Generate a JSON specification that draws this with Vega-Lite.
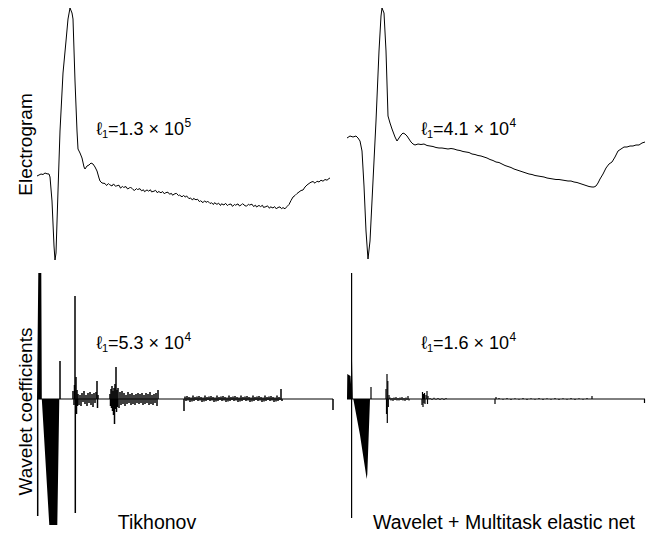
{
  "$schema": "https://vega.github.io/schema/vega-lite/v6.json",
  "padding": {"left": 16, "top": 6, "right": 1, "bottom": 1},
  "columns": 2,
  "align": "each",
  "bounds": "flush",
  "spacing": {"row": 12, "column": 14},
  "config": {
    "view": {"stroke": null},
    "text": {"font": "Liberation Sans", "color": "black", "baseline": "middle"}
  },
  "datasets": {
    "tl": [
      {"x":0,"v":-0.1},{"x":4,"v":0.1},{"x":6,"v":0.05},{"x":8,"v":0.2},{"x":10,"v":0.12},{"x":12,"v":0.1},{"x":13,"v":-0.2},{"x":15,"v":-2.6},{"x":17,"v":-7.1},{"x":18,"v":-8.5},{"x":19,"v":-7.8},{"x":21,"v":-1.6},{"x":23,"v":4.4},{"x":26,"v":10.2},{"x":29,"v":13.4},{"x":31,"v":15.6},{"x":33,"v":16.7},{"x":35,"v":16.2},{"x":36,"v":15.6},{"x":38,"v":9.4},{"x":40,"v":4.4},{"x":41,"v":2.6},{"x":43,"v":2.2},{"x":45,"v":1.7},{"x":47,"v":0.8},{"x":48,"v":0.6},{"x":50,"v":0.9},{"x":52,"v":1.0},{"x":54,"v":1.2},{"x":56,"v":1.1},{"x":58,"v":0.8},{"x":60,"v":0.4},{"x":62,"v":-0.3},{"x":63,"v":-0.6},{"x":65,"v":-0.8},
      {"x":68,"v":-0.85},{"x":69.5,"v":-1.05},{"x":71.5,"v":-0.86},{"x":72.5,"v":-0.96},{"x":75,"v":-1.1},{"x":76.5,"v":-0.89},{"x":78.5,"v":-1.13},{"x":79.5,"v":-1.09},{"x":82,"v":-1.02},{"x":83.5,"v":-1.31},{"x":85.5,"v":-1.14},{"x":86.5,"v":-1.24},{"x":89,"v":-1.16},{"x":90.5,"v":-1.39},{"x":92.5,"v":-1.3},{"x":93.5,"v":-1.2},{"x":96,"v":-1.46},{"x":97.5,"v":-1.54},{"x":99.5,"v":-1.36},{"x":100.5,"v":-1.45},{"x":103,"v":-1.37},{"x":104.5,"v":-1.58},{"x":106.5,"v":-1.48},{"x":107.5,"v":-1.67},{"x":110,"v":-1.49},{"x":111.5,"v":-1.61},{"x":113.5,"v":-1.48},{"x":114.5,"v":-1.69},{"x":117,"v":-1.62},{"x":118.5,"v":-1.53},{"x":120.5,"v":-1.79},{"x":121.5,"v":-1.64},{"x":124,"v":-1.78},{"x":125.5,"v":-1.65},{"x":127.5,"v":-1.89},{"x":128.5,"v":-1.77},{"x":131,"v":-1.72},{"x":132.5,"v":-1.92},{"x":134.5,"v":-1.84},{"x":135.5,"v":-2.02},{"x":138,"v":-1.87},{"x":139.5,"v":-1.84},{"x":141.5,"v":-2.06},{"x":142.5,"v":-2.01},{"x":145,"v":-2.18},{"x":146.5,"v":-2.05},{"x":148.5,"v":-2.21},{"x":149.5,"v":-2.08},{"x":152,"v":-2.37},{"x":153.5,"v":-2.29},{"x":155.5,"v":-2.51},{"x":156.5,"v":-2.34},{"x":159,"v":-2.48},{"x":160.5,"v":-2.42},{"x":162.5,"v":-2.67},{"x":163.5,"v":-2.57},{"x":166,"v":-2.77},{"x":167.5,"v":-2.59},{"x":169.5,"v":-2.74},{"x":170.5,"v":-2.6},{"x":173,"v":-2.85},{"x":174.5,"v":-2.78},{"x":176.5,"v":-2.95},{"x":177.5,"v":-2.77},{"x":180,"v":-2.94},{"x":181.5,"v":-2.81},{"x":183.5,"v":-3.05},{"x":184.5,"v":-2.88},{"x":187,"v":-3.0},{"x":188.5,"v":-2.83},{"x":190.5,"v":-3.06},{"x":191.5,"v":-2.96},{"x":194,"v":-2.9},{"x":195.5,"v":-3.14},{"x":197.5,"v":-2.94},{"x":198.5,"v":-3.02},{"x":201,"v":-2.89},{"x":202.5,"v":-3.1},{"x":204.5,"v":-2.97},{"x":205.5,"v":-2.87},{"x":208,"v":-3.07},{"x":209.5,"v":-3.12},{"x":211.5,"v":-2.92},{"x":212.5,"v":-3.0},{"x":215,"v":-2.92},{"x":216.5,"v":-3.15},{"x":218.5,"v":-3.02},{"x":219.5,"v":-3.2},{"x":222,"v":-3.04},{"x":223.5,"v":-3.16},{"x":225.5,"v":-3.03},{"x":226.5,"v":-3.24},{"x":229,"v":-3.17},{"x":230.5,"v":-3.08},{"x":232.5,"v":-3.33},{"x":233.5,"v":-3.18},{"x":236,"v":-3.3},{"x":237.5,"v":-3.16},{"x":239.5,"v":-3.4},{"x":240.5,"v":-3.26},{"x":243,"v":-3.19},{"x":244.5,"v":-3.37},{"x":246,"v":-3.26},{"x":248,"v":-3.38},{"x":250,"v":-3.15},{"x":252,"v":-2.95},{"x":254,"v":-2.55},{"x":256,"v":-2.2},{"x":258,"v":-2.05},{"x":260,"v":-1.85},{"x":262,"v":-1.7},{"x":264,"v":-1.55},{"x":266,"v":-1.5},{"x":268,"v":-1.2},{"x":270,"v":-1.0},{"x":272,"v":-0.85},{"x":274,"v":-0.72},{"x":276,"v":-0.65},{"x":278,"v":-0.82},{"x":280,"v":-0.62},{"x":282,"v":-0.7},{"x":284,"v":-0.52},{"x":286,"v":-0.62},{"x":288,"v":-0.45},{"x":290,"v":-0.52},{"x":292,"v":-0.35},{"x":293,"v":-0.3}
    ],
    "tr": [
      {"x":0,"v":3.7},{"x":3,"v":3.9},{"x":6,"v":3.8},{"x":9,"v":3.9},{"x":11,"v":3.7},{"x":13,"v":3.4},{"x":15,"v":2.4},{"x":17,"v":-1.1},{"x":19,"v":-5.6},{"x":21,"v":-8.4},{"x":23,"v":-6.6},{"x":26,"v":-0.6},{"x":29,"v":5.4},{"x":32,"v":12.4},{"x":34,"v":15.9},{"x":35,"v":16.7},{"x":37,"v":16.2},{"x":39,"v":12.4},{"x":41,"v":5.9},{"x":43,"v":5.2},{"x":45,"v":4.6},{"x":48,"v":3.8},{"x":50,"v":3.4},{"x":52,"v":3.7},{"x":54,"v":4.0},{"x":56,"v":4.2},{"x":58,"v":4.1},{"x":60,"v":3.9},{"x":62,"v":3.6},{"x":64,"v":3.3},{"x":66,"v":3.1},
      {"x":68,"v":3.0},{"x":71,"v":3.1},{"x":74,"v":3.05},{"x":77,"v":3.1},{"x":80,"v":2.95},{"x":83,"v":2.9},{"x":86,"v":2.85},{"x":89,"v":2.75},{"x":92,"v":2.7},{"x":95,"v":2.7},{"x":98,"v":2.65},{"x":101,"v":2.6},{"x":104,"v":2.65},{"x":107,"v":2.6},{"x":110,"v":2.5},{"x":113,"v":2.45},{"x":116,"v":2.35},{"x":119,"v":2.3},{"x":122,"v":2.25},{"x":125,"v":2.1},{"x":128,"v":2.05},{"x":131,"v":1.95},{"x":134,"v":1.9},{"x":137,"v":1.8},{"x":140,"v":1.7},{"x":143,"v":1.55},{"x":146,"v":1.45},{"x":149,"v":1.3},{"x":152,"v":1.25},{"x":155,"v":1.1},{"x":158,"v":0.95},{"x":161,"v":0.85},{"x":164,"v":0.75},{"x":167,"v":0.6},{"x":170,"v":0.5},{"x":173,"v":0.4},{"x":176,"v":0.3},{"x":179,"v":0.2},{"x":182,"v":0.1},{"x":185,"v":0.05},{"x":188,"v":-0.05},{"x":191,"v":-0.1},{"x":194,"v":-0.15},{"x":197,"v":-0.2},{"x":200,"v":-0.3},{"x":203,"v":-0.35},{"x":206,"v":-0.4},{"x":209,"v":-0.45},{"x":212,"v":-0.45},{"x":215,"v":-0.5},{"x":218,"v":-0.55},{"x":221,"v":-0.6},{"x":224,"v":-0.6},{"x":227,"v":-0.7},{"x":230,"v":-0.75},{"x":233,"v":-0.85},{"x":236,"v":-0.95},{"x":239,"v":-1.05},{"x":242,"v":-1.15},{"x":245,"v":-1.2},{"x":247,"v":-1.2},{"x":249,"v":-1.1},{"x":251,"v":-0.8},{"x":253,"v":-0.4},{"x":256,"v":0.1},{"x":259,"v":0.7},{"x":262,"v":1.1},{"x":265,"v":1.3},{"x":268,"v":1.8},{"x":271,"v":2.4},{"x":274,"v":2.6},{"x":277,"v":2.8},{"x":280,"v":2.8},{"x":283,"v":2.9},{"x":286,"v":2.9},{"x":289,"v":3.0},{"x":292,"v":3.0},{"x":295,"v":3.2},{"x":298,"v":3.3}
    ],
    "bl_area": [
      {"x":0,"v":0},{"x":1.3,"v":12.6},{"x":4.3,"v":12.6},{"x":4.8,"v":0},{"x":12.3,"v":-12.6},{"x":20.3,"v":-12.6},{"x":22.3,"v":0}
    ],
    "bl_stems": [
      {"x":0.7,"v":-11.7},{"x":23,"v":3.8},
      {"x":36,"v":0.8},{"x":37,"v":-0.6},{"x":37.5,"v":1.4},{"x":38,"v":10.3},{"x":38.3,"v":-11.4},{"x":39,"v":2.2},{"x":39.5,"v":-1.5},{"x":40,"v":0.9},{"x":40.5,"v":-0.7},
      {"x":41,"v":0.5},{"x":42,"v":-0.6},{"x":43,"v":0.4},{"x":44,"v":-0.7},{"x":45,"v":0.6},{"x":46,"v":-0.3},{"x":47,"v":0.8},{"x":48,"v":-0.5},{"x":49,"v":0.4},{"x":50,"v":-0.7},{"x":51,"v":0.6},{"x":52,"v":-0.4},{"x":53,"v":0.7},{"x":54,"v":-0.6},{"x":55,"v":0.5},{"x":56,"v":-0.8},{"x":57,"v":0.6},{"x":58,"v":-0.4},{"x":59,"v":0.7},{"x":60,"v":1.8},{"x":60.5,"v":-0.9},{"x":61,"v":0.4},
      {"x":73,"v":0.5},{"x":73.5,"v":-0.7},{"x":74,"v":1.0},{"x":74.5,"v":-0.9},{"x":75,"v":1.3},{"x":75.5,"v":-1.2},{"x":76,"v":0.8},{"x":76.5,"v":-1.6},{"x":77,"v":1.1},{"x":77.5,"v":-2.5},{"x":78,"v":1.5},{"x":78.5,"v":-1.0},{"x":79,"v":3.2},{"x":79.5,"v":-1.3},{"x":80,"v":0.9},{"x":80.5,"v":-0.8},{"x":81,"v":1.1},{"x":82,"v":-0.9},{"x":83,"v":0.7},{"x":84,"v":-0.6},{"x":85,"v":0.8},{"x":86,"v":-0.5},{"x":87,"v":0.6},{"x":88,"v":-0.7},{"x":89,"v":0.4},{"x":90,"v":-0.5},{"x":91,"v":0.7},{"x":92,"v":-0.4},{"x":93,"v":0.5},{"x":94,"v":-0.6},{"x":95,"v":0.6},{"x":96,"v":-0.5},{"x":97,"v":0.4},{"x":98,"v":-0.6},{"x":99,"v":0.5},{"x":100,"v":-0.4},{"x":101,"v":0.6},{"x":102,"v":-0.5},{"x":103,"v":0.5},{"x":104,"v":-0.4},{"x":105,"v":0.6},{"x":106,"v":-0.6},{"x":107,"v":0.4},{"x":108,"v":-0.5},{"x":109,"v":0.6},{"x":110,"v":-0.4},{"x":111,"v":0.5},{"x":112,"v":-0.6},{"x":113,"v":0.7},{"x":114,"v":-0.5},{"x":115,"v":0.4},{"x":116,"v":-0.6},{"x":117,"v":0.5},{"x":118,"v":-0.4},{"x":119,"v":0.6},{"x":120,"v":-0.7},{"x":121,"v":0.9},
      {"x":147,"v":-1.2},{"x":148,"v":0.25},{"x":149,"v":-0.2},{"x":150,"v":0.3},{"x":151,"v":-0.15},{"x":152,"v":0.2},{"x":153,"v":-0.3},{"x":154,"v":0.15},{"x":155,"v":-0.25},{"x":156,"v":0.35},{"x":157,"v":-0.2},{"x":158,"v":0.2},{"x":159,"v":-0.1},{"x":160,"v":0.25},{"x":161,"v":-0.2},{"x":162,"v":0.3},{"x":163,"v":-0.15},{"x":164,"v":0.2},{"x":165,"v":-0.3},{"x":166,"v":0.15},{"x":167,"v":-0.25},{"x":168,"v":0.35},{"x":169,"v":-0.2},{"x":170,"v":0.2},{"x":171,"v":-0.1},{"x":172,"v":0.25},{"x":173,"v":-0.2},{"x":174,"v":0.3},{"x":175,"v":-0.15},{"x":176,"v":0.2},{"x":177,"v":-0.3},{"x":178,"v":0.15},{"x":179,"v":-0.25},{"x":180,"v":0.35},{"x":181,"v":-0.2},{"x":182,"v":0.2},{"x":183,"v":-0.1},{"x":184,"v":0.25},{"x":185,"v":-0.2},{"x":186,"v":0.3},{"x":187,"v":-0.15},{"x":188,"v":0.2},{"x":189,"v":-0.3},{"x":190,"v":0.15},{"x":191,"v":-0.25},{"x":192,"v":0.35},{"x":193,"v":-0.2},{"x":194,"v":0.2},{"x":195,"v":-0.1},{"x":196,"v":0.25},{"x":197,"v":-0.2},{"x":198,"v":0.3},{"x":199,"v":-0.15},{"x":200,"v":0.2},{"x":201,"v":-0.3},{"x":202,"v":0.15},{"x":203,"v":-0.25},{"x":204,"v":0.35},{"x":205,"v":-0.2},{"x":206,"v":0.2},{"x":207,"v":-0.1},{"x":208,"v":0.25},{"x":209,"v":-0.2},{"x":210,"v":0.3},{"x":211,"v":-0.15},{"x":212,"v":0.2},{"x":213,"v":-0.3},{"x":214,"v":0.15},{"x":215,"v":-0.25},{"x":216,"v":0.35},{"x":217,"v":-0.2},{"x":218,"v":0.2},{"x":219,"v":-0.1},{"x":220,"v":0.25},{"x":221,"v":-0.2},{"x":222,"v":0.3},{"x":223,"v":-0.15},{"x":224,"v":0.2},{"x":225,"v":-0.3},{"x":226,"v":0.15},{"x":227,"v":-0.25},{"x":228,"v":0.35},{"x":229,"v":-0.2},{"x":230,"v":0.2},{"x":231,"v":-0.1},{"x":232,"v":0.25},{"x":233,"v":-0.2},{"x":234,"v":0.3},{"x":235,"v":-0.15},{"x":236,"v":0.2},{"x":237,"v":-0.3},{"x":238,"v":0.15},{"x":239,"v":-0.25},{"x":240,"v":0.35},{"x":241,"v":-0.2},{"x":242,"v":0.2},{"x":243,"v":-0.1},{"x":244,"v":1.0},{"x":245,"v":-0.2},
      {"x":296,"v":-1.1}
    ],
    "br_area": [
      {"x":0,"v":0},{"x":0.3,"v":2.5},{"x":3.5,"v":2.3},{"x":4.3,"v":1.0},{"x":5,"v":3.8},{"x":5.8,"v":0},{"x":6.3,"v":0},{"x":13,"v":-3.6},{"x":19.7,"v":-8.0},{"x":20.3,"v":-7.5},{"x":23,"v":0}
    ],
    "br_stems": [
      {"x":4.6,"v":12.6},{"x":4.6,"v":-11.9},{"x":24,"v":1.2},
      {"x":39,"v":1.0},{"x":39.5,"v":-1.5},{"x":40,"v":2.5},{"x":40.3,"v":-2.4},{"x":40.8,"v":1.8},{"x":41.3,"v":-0.8},{"x":42,"v":0.4},
      {"x":43,"v":0.15},{"x":44,"v":-0.15},{"x":45,"v":0.1},{"x":46,"v":-0.2},{"x":47,"v":0.15},{"x":48,"v":-0.1},{"x":49,"v":0.2},{"x":50,"v":-0.15},{"x":51,"v":0.1},{"x":52,"v":-0.15},{"x":53,"v":0.15},{"x":54,"v":-0.1},{"x":55,"v":0.2},{"x":56,"v":-0.15},{"x":57,"v":0.1},{"x":58,"v":-0.2},{"x":59,"v":0.15},{"x":60,"v":-0.1},{"x":61,"v":0.3},{"x":62,"v":-0.15},
      {"x":75,"v":-0.6},{"x":75.5,"v":0.7},{"x":76,"v":-0.8},{"x":76.5,"v":0.5},{"x":77,"v":-0.4},{"x":77.5,"v":0.6},{"x":78,"v":-0.5},{"x":79,"v":0.4},{"x":80,"v":0.8},{"x":80.5,"v":-0.5},{"x":81,"v":0.3},
      {"x":83,"v":0.1},{"x":85,"v":-0.1},{"x":87,"v":0.12},{"x":89,"v":-0.08},{"x":91,"v":0.1},{"x":93,"v":-0.1},{"x":95,"v":0.08},{"x":97,"v":-0.1},{"x":99,"v":0.1},
      {"x":148,"v":-0.5},{"x":149,"v":0.2},
      {"x":152,"v":0.1},{"x":156,"v":-0.08},{"x":160,"v":0.1},{"x":164,"v":-0.1},{"x":168,"v":0.08},{"x":172,"v":-0.08},{"x":176,"v":0.1},{"x":180,"v":-0.1},{"x":184,"v":0.08},{"x":188,"v":-0.08},{"x":192,"v":0.1},{"x":196,"v":-0.1},{"x":200,"v":0.08},{"x":204,"v":-0.08},{"x":208,"v":0.1},{"x":212,"v":-0.1},{"x":216,"v":0.08},{"x":220,"v":-0.08},{"x":224,"v":0.1},{"x":228,"v":-0.1},{"x":232,"v":0.08},{"x":236,"v":-0.08},{"x":240,"v":0.1},
      {"x":245,"v":0.3},{"x":297.5,"v":-0.4}
    ]
  },
  "concat": [
    {
      "width": 296, "height": 254,
      "layer": [
        {"data": {"name": "tl"}, "mark": {"type": "line", "color": "black", "strokeWidth": 1},
         "encoding": {
           "x": {"field": "x", "type": "quantitative", "scale": {"domain": [0, 296], "nice": false, "zero": false}, "axis": null},
           "y": {"field": "v", "type": "quantitative", "scale": {"domain": [-8.6, 16.8], "nice": false, "zero": false},
                 "axis": {"title": "Electrogram", "titleY": 137, "domain": false, "ticks": false, "labels": false, "grid": false, "minExtent": 0, "titlePadding": 2, "titleFontSize": 19, "titleFontWeight": "normal", "titleColor": "black", "titleFont": "Liberation Sans"}}}},
        {"data": {"values": [{"t": "ℓ"}]}, "mark": {"type": "text", "fontSize": 18, "align": "right", "dx": -6},
         "encoding": {"x": {"datum": 71, "type": "quantitative"}, "y": {"datum": 4.5, "type": "quantitative"}, "text": {"field": "t"}}},
        {"data": {"values": [{"t": "1"}]}, "mark": {"type": "text", "fontSize": 11, "align": "left", "dx": -6, "dy": 5},
         "encoding": {"x": {"datum": 71, "type": "quantitative"}, "y": {"datum": 4.5, "type": "quantitative"}, "text": {"field": "t"}}},
        {"data": {"values": [{"t": "=1.3 × 10"}]}, "mark": {"type": "text", "fontSize": 18, "align": "left"},
         "encoding": {"x": {"datum": 71, "type": "quantitative"}, "y": {"datum": 4.5, "type": "quantitative"}, "text": {"field": "t"}}},
        {"data": {"values": [{"t": "5"}]}, "mark": {"type": "text", "fontSize": 12, "align": "left", "dx": 76.5, "dy": -7},
         "encoding": {"x": {"datum": 71, "type": "quantitative"}, "y": {"datum": 4.5, "type": "quantitative"}, "text": {"field": "t"}}}
      ]
    },
    {
      "width": 298, "height": 254,
      "layer": [
        {"data": {"name": "tr"}, "mark": {"type": "line", "color": "black", "strokeWidth": 1},
         "encoding": {
           "x": {"field": "x", "type": "quantitative", "scale": {"domain": [0, 298], "nice": false, "zero": false}, "axis": null},
           "y": {"field": "v", "type": "quantitative", "scale": {"domain": [-8.6, 16.8], "nice": false, "zero": false}, "axis": null}}},
        {"data": {"values": [{"t": "ℓ"}]}, "mark": {"type": "text", "fontSize": 18, "align": "right", "dx": -6},
         "encoding": {"x": {"datum": 86, "type": "quantitative"}, "y": {"datum": 4.5, "type": "quantitative"}, "text": {"field": "t"}}},
        {"data": {"values": [{"t": "1"}]}, "mark": {"type": "text", "fontSize": 11, "align": "left", "dx": -6, "dy": 5},
         "encoding": {"x": {"datum": 86, "type": "quantitative"}, "y": {"datum": 4.5, "type": "quantitative"}, "text": {"field": "t"}}},
        {"data": {"values": [{"t": "=4.1 × 10"}]}, "mark": {"type": "text", "fontSize": 18, "align": "left"},
         "encoding": {"x": {"datum": 86, "type": "quantitative"}, "y": {"datum": 4.5, "type": "quantitative"}, "text": {"field": "t"}}},
        {"data": {"values": [{"t": "4"}]}, "mark": {"type": "text", "fontSize": 12, "align": "left", "dx": 76.5, "dy": -7},
         "encoding": {"x": {"datum": 86, "type": "quantitative"}, "y": {"datum": 4.5, "type": "quantitative"}, "text": {"field": "t"}}}
      ]
    },
    {
      "width": 296, "height": 256,
      "layer": [
        {"data": {"name": "bl_area"}, "mark": {"type": "area", "color": "black", "opacity": 1},
         "encoding": {
           "x": {"field": "x", "type": "quantitative", "scale": {"domain": [0, 296], "nice": false, "zero": false}, "axis": null},
           "y": {"field": "v", "type": "quantitative", "stack": null, "scale": {"domain": [-13, 12.6], "nice": false, "zero": false},
                 "axis": {"title": "Wavelet coefficients", "titleY": 138, "domain": false, "ticks": false, "labels": false, "grid": false, "minExtent": 0, "titlePadding": 2, "titleFontSize": 19, "titleFontWeight": "normal", "titleColor": "black", "titleFont": "Liberation Sans"}},
           "y2": {"datum": 0}}},
        {"data": {"name": "bl_stems"}, "mark": {"type": "rule", "color": "black", "strokeWidth": 1.5},
         "encoding": {
           "x": {"field": "x", "type": "quantitative"},
           "y": {"field": "v", "type": "quantitative"},
           "y2": {"datum": 0}}},
        {"data": {"values": [{}]}, "mark": {"type": "rule", "color": "black", "strokeWidth": 1},
         "encoding": {"y": {"datum": 0, "type": "quantitative"}}},
        {"data": {"values": [{"t": "ℓ"}]}, "mark": {"type": "text", "fontSize": 18, "align": "right", "dx": -6},
         "encoding": {"x": {"datum": 71, "type": "quantitative"}, "y": {"datum": 5.5, "type": "quantitative"}, "text": {"field": "t"}}},
        {"data": {"values": [{"t": "1"}]}, "mark": {"type": "text", "fontSize": 11, "align": "left", "dx": -6, "dy": 5},
         "encoding": {"x": {"datum": 71, "type": "quantitative"}, "y": {"datum": 5.5, "type": "quantitative"}, "text": {"field": "t"}}},
        {"data": {"values": [{"t": "=5.3 × 10"}]}, "mark": {"type": "text", "fontSize": 18, "align": "left"},
         "encoding": {"x": {"datum": 71, "type": "quantitative"}, "y": {"datum": 5.5, "type": "quantitative"}, "text": {"field": "t"}}},
        {"data": {"values": [{"t": "4"}]}, "mark": {"type": "text", "fontSize": 12, "align": "left", "dx": 76.5, "dy": -7},
         "encoding": {"x": {"datum": 71, "type": "quantitative"}, "y": {"datum": 5.5, "type": "quantitative"}, "text": {"field": "t"}}},
        {"data": {"values": [{"t": "Tikhonov"}]}, "mark": {"type": "text", "fontSize": 19.5, "align": "center", "baseline": "alphabetic"},
         "encoding": {"x": {"datum": 120, "type": "quantitative"}, "y": {"datum": -13.0, "type": "quantitative"}, "text": {"field": "t"}}}
      ]
    },
    {
      "width": 298, "height": 256,
      "layer": [
        {"data": {"name": "br_area"}, "mark": {"type": "area", "color": "black", "opacity": 1},
         "encoding": {
           "x": {"field": "x", "type": "quantitative", "scale": {"domain": [0, 298], "nice": false, "zero": false}, "axis": null},
           "y": {"field": "v", "type": "quantitative", "stack": null, "scale": {"domain": [-13, 12.6], "nice": false, "zero": false}, "axis": null},
           "y2": {"datum": 0}}},
        {"data": {"name": "br_stems"}, "mark": {"type": "rule", "color": "black", "strokeWidth": 1.2},
         "encoding": {
           "x": {"field": "x", "type": "quantitative"},
           "y": {"field": "v", "type": "quantitative"},
           "y2": {"datum": 0}}},
        {"data": {"values": [{}]}, "mark": {"type": "rule", "color": "black", "strokeWidth": 1},
         "encoding": {"y": {"datum": 0, "type": "quantitative"}}},
        {"data": {"values": [{"t": "ℓ"}]}, "mark": {"type": "text", "fontSize": 18, "align": "right", "dx": -6},
         "encoding": {"x": {"datum": 86, "type": "quantitative"}, "y": {"datum": 5.5, "type": "quantitative"}, "text": {"field": "t"}}},
        {"data": {"values": [{"t": "1"}]}, "mark": {"type": "text", "fontSize": 11, "align": "left", "dx": -6, "dy": 5},
         "encoding": {"x": {"datum": 86, "type": "quantitative"}, "y": {"datum": 5.5, "type": "quantitative"}, "text": {"field": "t"}}},
        {"data": {"values": [{"t": "=1.6 × 10"}]}, "mark": {"type": "text", "fontSize": 18, "align": "left"},
         "encoding": {"x": {"datum": 86, "type": "quantitative"}, "y": {"datum": 5.5, "type": "quantitative"}, "text": {"field": "t"}}},
        {"data": {"values": [{"t": "4"}]}, "mark": {"type": "text", "fontSize": 12, "align": "left", "dx": 76.5, "dy": -7},
         "encoding": {"x": {"datum": 86, "type": "quantitative"}, "y": {"datum": 5.5, "type": "quantitative"}, "text": {"field": "t"}}},
        {"data": {"values": [{"t": "Wavelet + Multitask elastic net"}]}, "mark": {"type": "text", "fontSize": 19.5, "align": "center", "baseline": "alphabetic"},
         "encoding": {"x": {"datum": 157, "type": "quantitative"}, "y": {"datum": -13.0, "type": "quantitative"}, "text": {"field": "t"}}}
      ]
    }
  ]
}
